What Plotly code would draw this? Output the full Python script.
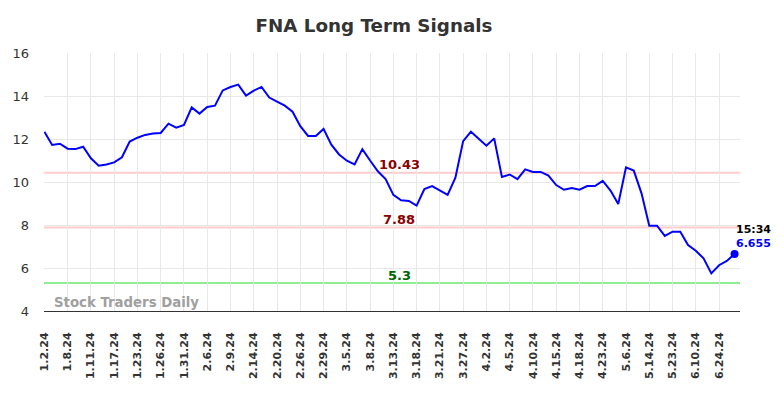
import plotly.graph_objects as go

# ---- data ----
tick_labels = ["1.2.24", "1.8.24", "1.11.24", "1.17.24", "1.23.24", "1.26.24", "1.31.24",
               "2.6.24", "2.9.24", "2.14.24", "2.20.24", "2.26.24", "2.29.24", "3.5.24",
               "3.8.24", "3.13.24", "3.18.24", "3.21.24", "3.27.24", "4.2.24", "4.5.24",
               "4.10.24", "4.15.24", "4.18.24", "4.23.24", "5.6.24", "5.14.24", "5.23.24",
               "6.10.24", "6.24.24"]

prices = [12.34, 11.72, 11.78, 11.55, 11.53, 11.64, 11.10, 10.76, 10.81, 10.91,
          11.15, 11.88, 12.06, 12.19, 12.26, 12.28, 12.71, 12.53, 12.65, 13.47,
          13.18, 13.49, 13.55, 14.26, 14.42, 14.53, 14.02, 14.25, 14.42, 13.93,
          13.74, 13.55, 13.27, 12.60, 12.14, 12.14, 12.47, 11.74, 11.28, 10.99,
          10.82, 11.53, 11.00, 10.50, 10.14, 9.40, 9.15, 9.12, 8.90, 9.67,
          9.81, 9.61, 9.40, 10.20, 11.90, 12.34, 12.03, 11.69, 12.03, 10.23,
          10.35, 10.13, 10.59, 10.47, 10.47, 10.30, 9.86, 9.64, 9.72, 9.64,
          9.81, 9.81, 10.05, 9.60, 8.98, 10.68, 10.53, 9.47, 7.97, 7.97,
          7.49, 7.69, 7.69, 7.07, 6.80, 6.45, 5.75, 6.13, 6.33, 6.655]

label_step = 3
signal_levels = [10.43, 7.88, 5.3]
signal_labels = ["10.43", "7.88", "5.3"]
last_time = "15:34"
last_label = "6.655"

# ---- figure ----
idx = list(range(len(prices)))
tick_positions = [i * label_step for i in range(len(tick_labels))]

line_colors = ["#ffcccc", "#ffcccc", "#90ee90"]
text_colors = ["#8b0000", "#8b0000", "#006400"]

fig = go.Figure()

for lvl, lc in zip(signal_levels, line_colors):
    fig.add_shape(type="line", xref="paper", x0=0, x1=1, yref="y", y0=lvl, y1=lvl,
                  line=dict(color=lc, width=2), layer="below")

fig.add_trace(go.Scatter(x=idx, y=prices, mode="lines",
                         line=dict(color="#0000ff", width=2), hoverinfo="skip"))
fig.add_trace(go.Scatter(x=[idx[-1]], y=[prices[-1]], mode="markers",
                         marker=dict(color="#0000ff", size=8), hoverinfo="skip"))

mid = (len(prices) - 1) * 0.5 + 0.5
for lvl, txt, tc in zip(signal_levels, signal_labels, text_colors):
    fig.add_annotation(x=mid, y=lvl, xref="x", yref="y", text="<b>%s</b>" % txt,
                       showarrow=False, yshift=8, xshift=6, font=dict(size=13, color=tc,
                       family="DejaVu Sans"))

fig.add_annotation(x=idx[-1], y=prices[-1], text="<b>%s</b>" % last_time, showarrow=False,
                   xanchor="left", yshift=24, xshift=-1,
                   font=dict(size=11, color="#000000", family="DejaVu Sans"))
fig.add_annotation(x=idx[-1], y=prices[-1], text="<b>%s</b>" % last_label, showarrow=False,
                   xanchor="left", yshift=10, xshift=-1,
                   font=dict(size=11, color="#0000ff", family="DejaVu Sans"))

fig.add_annotation(x=0.011, y=4.4, xref="paper", yref="y", text="<b>Stock Traders Daily</b>",
                   showarrow=False, xanchor="left",
                   font=dict(size=13.3, color="#a0a0a0", family="DejaVu Sans"))

fig.update_layout(
    width=784, height=398,
    margin=dict(l=42, r=44, t=53, b=87),
    plot_bgcolor="#ffffff", paper_bgcolor="#ffffff",
    showlegend=False,
    title=dict(text="<b>FNA Long Term Signals</b>", x=0.477, xanchor="center",
               y=0.935, yanchor="middle",
               font=dict(size=18.3, color="#333333", family="DejaVu Sans")),
    font=dict(family="DejaVu Sans", color="#333333"),
)

fig.update_xaxes(range=[-0.05, 89.7], tickmode="array", tickvals=tick_positions,
                 ticktext=["<b>%s</b>" % t for t in tick_labels], tickangle=-90,
                 tickfont=dict(size=11, color="#333333", family="DejaVu Sans"),
                 showgrid=True, gridcolor="#e8e8e8", gridwidth=1,
                 showline=True, linecolor="#333333", linewidth=1,
                 zeroline=False, ticks="", ticklabelstandoff=16)
fig.update_yaxes(range=[4, 16], tickvals=[4, 6, 8, 10, 12, 14, 16],
                 tickfont=dict(size=13, color="#333333", family="DejaVu Sans"),
                 showgrid=True, gridcolor="#e8e8e8", gridwidth=1,
                 showline=False, zeroline=False, ticks="", ticklabelstandoff=14)

fig.write_html("out.html", config={"displayModeBar": False},
               post_script="document.body.style.margin='0';document.body.style.overflow='hidden';")
